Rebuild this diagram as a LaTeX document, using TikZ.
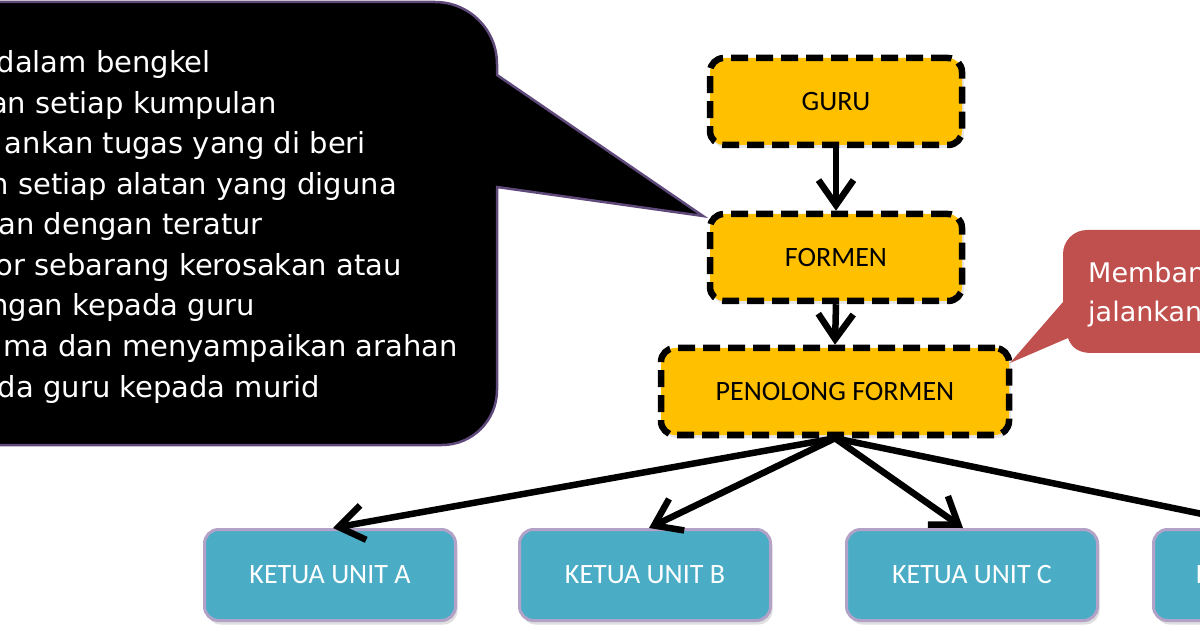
\documentclass[tikz,border=0pt]{standalone}
\usepackage{fontspec}
\newfontfamily\calloutfont{DejaVu Sans}
\newfontfamily\boxfont{Carlito}
\usetikzlibrary{arrows.meta,shadows}

\definecolor{boxorange}{HTML}{FFC000}
\definecolor{unitblue}{HTML}{4BACC6}
\definecolor{unitedge}{HTML}{B3A2C7}
\definecolor{noteRed}{HTML}{C0504D}
\definecolor{noteEdge}{HTML}{5F497A}

\begin{document}
\begin{tikzpicture}[
    x=1pt, y=1pt,
    font=\boxfont\fontsize{28}{34}\selectfont,
    rank/.style={rectangle, draw, line width=6.5pt, dash pattern=on 17pt off 8pt, rounded corners=14pt, fill=boxorange, minimum height=87pt, minimum width=252pt, inner sep=0pt, drop shadow={shadow xshift=2pt, shadow yshift=-3pt, opacity=0.2}},
    unit/.style={rectangle, draw=unitedge, line width=3pt, rounded corners=14pt, fill=unitblue, text=white, minimum height=91pt, minimum width=251pt, inner sep=0pt, drop shadow={shadow xshift=2pt, shadow yshift=-4pt, opacity=0.25}},
    unitlbl/.style={text=white, inner sep=0pt},
    arr/.style={line width=6.5pt, -{Straight Barb[length=25pt, width=35pt]}},
    note/.style={font=\calloutfont\fontsize{29}{40}\selectfont, text=white, inner sep=0pt, anchor=base east},
    noteR/.style={font=\calloutfont\fontsize{27}{39}\selectfont, text=white, inner sep=0pt, anchor=base west},
  ]
  \useasboundingbox (0,0) rectangle (1200,630);
  \clip (0,0) rectangle (1200,630);

  %% ===== LEFT CALLOUT =====
  \draw[line width=2.5pt, draw=noteEdge, fill=black]
    (-60,628) [rounded corners=62pt] -- (497,628) [sharp corners] -- (497,555)
    -- (703,414) -- (497,443) [rounded corners=55pt] -- (497,185) [sharp corners] -- (-60,185) -- cycle;

  \node[note] (dutyA) at (211,557)   {dalam bengkel};
  \node[note] (dutyB) at (277,516.5) {an setiap kumpulan};
  \node[note] (dutyC) at (366,476)   {ankan tugas yang di beri};
  \node[note] (dutyD) at (397,435.5) {n setiap alatan yang diguna};
  \node[note] (dutyE) at (263,395)   {an dengan teratur};
  \node[note] (dutyF) at (402,354.5) {or sebarang kerosakan atau};
  \node[note] (dutyG) at (255,314)   {ngan kepada guru};
  \node[note] (dutyH) at (458,273.5) {ma dan menyampaikan arahan};
  \node[note] (dutyI) at (320,233)   {da guru kepada murid};

  %% ===== RIGHT CALLOUT =====
  \fill[noteRed]
    (1250,400) [rounded corners=24pt] -- (1063,400) [sharp corners] -- (1063,328)
    -- (1010,267) -- (1068,292) .. controls (1072,281) and (1080,277) .. (1092,277)
    -- (1250,277) -- cycle;
  \node[noteR] (helpA) at (1088,347) {Memban};
  \node[noteR] (helpB) at (1088,308) {jalankan};

  %% ===== HIERARCHY =====
  \node[rank] (guru)     at (836,528.5) {GURU};
  \node[rank] (formen)   at (836,372.5) {FORMEN};
  \node[rank, minimum width=348pt] (penolong) at (835,238.5) {PENOLONG FORMEN};

  \node[unit] (unitA) at (330,55)  {KETUA UNIT A};
  \node[unit] (unitB) at (645,55)  {KETUA UNIT B};
  \node[unit] (unitC) at (972,55)  {KETUA UNIT C};
  \node[unit] (unitD) at (1279,55) {};
  \node[unitlbl, anchor=west] (unitDk) at (1196,55) {K};

  %% ===== ARROWS =====
  \draw[arr] (guru.south) -- (formen.north);
  \draw[arr] (formen.south) -- (penolong.north);
  \draw[arr] (penolong.south) -- ([xshift=3pt]unitA.north);
  \draw[arr] (penolong.south) -- ([xshift=4pt]unitB.north);
  \draw[arr] (penolong.south) -- ([xshift=-9pt]unitC.north);
  \draw[arr] (penolong.south) -- ([xshift=-9pt]unitD.north);

\end{tikzpicture}
\end{document}
